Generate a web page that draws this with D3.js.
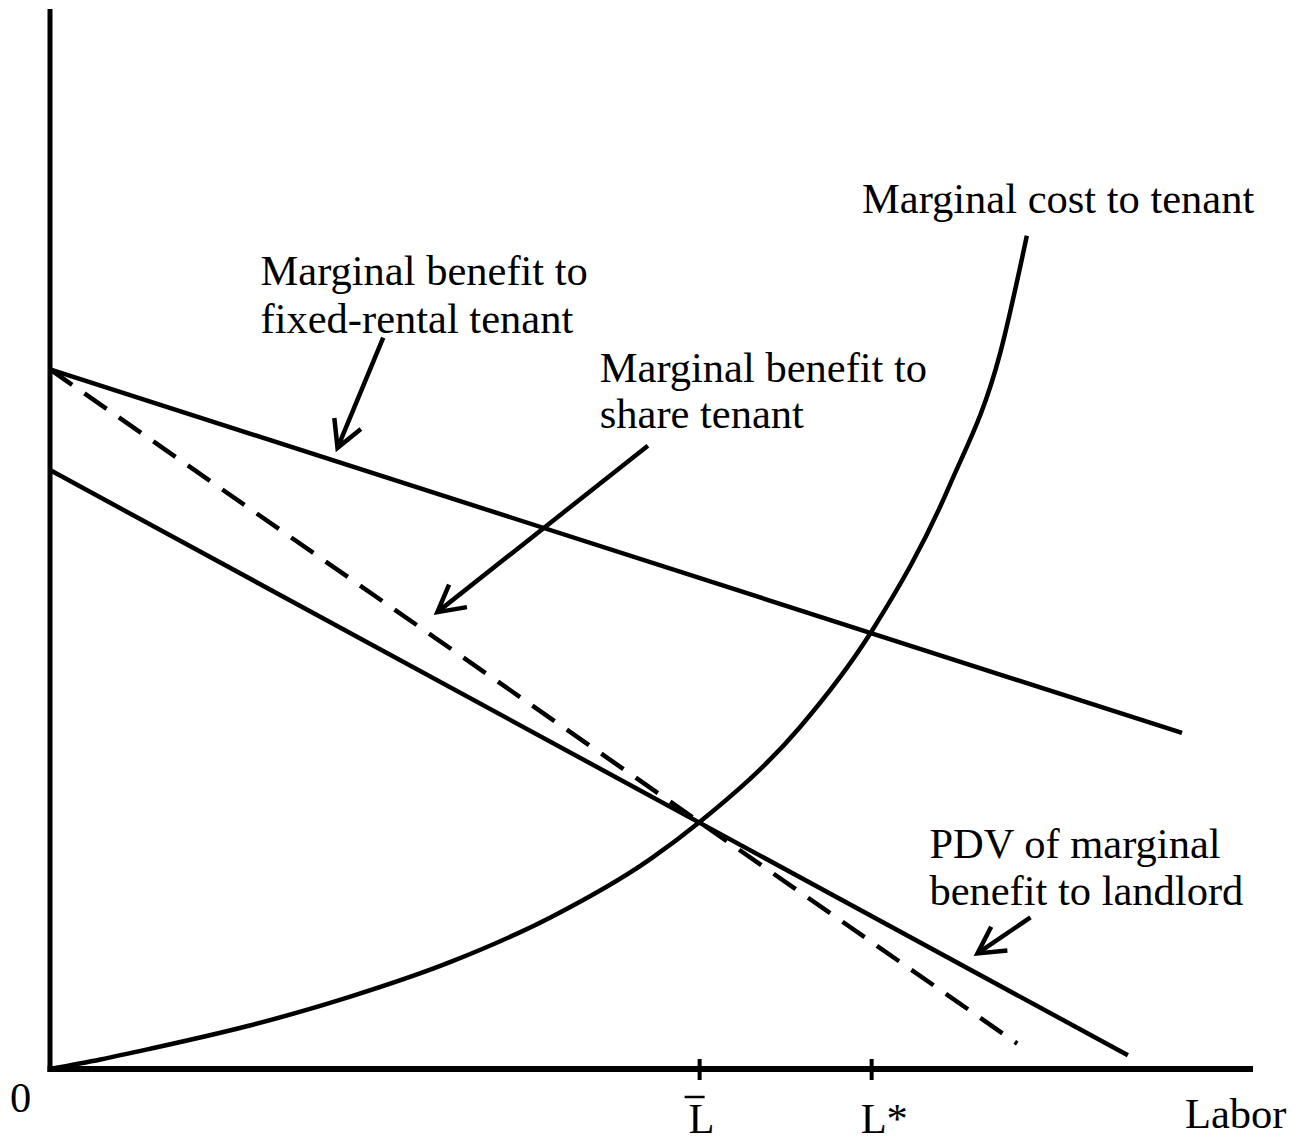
<!DOCTYPE html>
<html>
<head>
<meta charset="utf-8">
<script src="https://cdn.jsdelivr.net/npm/d3@7"></script>
<style>
  body { margin: 0; background: #fff; }
  svg text { font-family: "Liberation Serif", "Times New Roman", serif; font-size: 42.5px; fill: #000; }
</style>
</head>
<body>
<svg id="chart" width="1302" height="1142"></svg>
<script>
// diagrama de tenencia: beneficio marginal vs costo marginal del trabajo
// unidades abstractas: trabajo 0..100, valor 0..100

var mbFixed = [[0, 66.0], [94.1, 31.7]];
var mbShare = [[0, 66.0], [80.4, 2.4]];
var pdvLandlord = [[0, 56.5], [89.6, 1.3]];
var mcTenant = [
  [0, 0], [4.2, 0.9], [8.3, 1.9], [16.6, 4.1], [24.9, 6.8], [33.3, 10.1], [41.6, 14.3],
  [49.9, 19.8], [54.0, 23.3], [62.3, 32.2], [68.3, 41.3], [74.8, 55.1], [79.0, 67.6], [81.2, 78.6]
];
var tickVals = [54.0, 68.3];
var tickNames = ["L", "L*"];

// flechas de anotacion: [desde, hasta]
var arrows = [
  [[27.7, 69.0], [23.9, 58.6]],
  [[49.7, 58.8], [32.2, 43.1]],
  [[81.5, 14.3], [77.1, 10.9]]
];

var labels = [
  { t: "Marginal cost to tenant", x: 67.5, y: 80.8 },
  { t: "Marginal benefit to", x: 17.5, y: 74.0 },
  { t: "fixed-rental tenant", x: 17.5, y: 69.4 },
  { t: "Marginal benefit to", x: 45.7, y: 64.8 },
  { t: "share tenant", x: 45.7, y: 60.5 },
  { t: "PDV of marginal", x: 73.1, y: 19.9 },
  { t: "benefit to landlord", x: 73.1, y: 15.5 }
];

var svg = d3.select("#chart");
var x = d3.scaleLinear().domain([0, 100]).range([50, 1253]);
var y = d3.scaleLinear().domain([0, 100]).range([1069, 9]);

var line = d3.line().x(function (d) { return x(d[0]); }).y(function (d) { return y(d[1]); });

// ejes
svg.append("line").attr("x1", x(0)).attr("x2", x(0)).attr("y1", y(100)).attr("y2", y(0) + 3)
  .attr("stroke", "#000").attr("stroke-width", 5);
svg.append("line").attr("x1", x(0) - 2.5).attr("x2", x(100)).attr("y1", y(0)).attr("y2", y(0))
  .attr("stroke", "#000").attr("stroke-width", 6);

// ticks
svg.selectAll("line.tick").data(tickVals).enter().append("line")
  .attr("class", "tick")
  .attr("x1", function (d) { return x(d); }).attr("x2", function (d) { return x(d); })
  .attr("y1", y(0) - 10).attr("y2", y(0) + 11)
  .attr("stroke", "#000").attr("stroke-width", 4);

svg.selectAll("text.tick").data(tickVals).enter().append("text")
  .attr("class", "tick")
  .attr("x", function (d) { return x(d) - 11; })
  .attr("y", 1133)
  .text(function (d, i) { return tickNames[i]; });
// barra sobre L
svg.append("line").attr("x1", x(tickVals[0]) - 15).attr("x2", x(tickVals[0]) + 5)
  .attr("y1", 1097).attr("y2", 1097).attr("stroke", "#000").attr("stroke-width", 2.5);

svg.append("text").attr("x", 10).attr("y", 1112).text("0");
svg.append("text").attr("x", 1185).attr("y", 1128).text("Labor");

// curvas
svg.append("path").attr("d", line(mbFixed)).attr("fill", "none").attr("stroke", "#000").attr("stroke-width", 4.5);
svg.append("path").attr("d", line(pdvLandlord)).attr("fill", "none").attr("stroke", "#000").attr("stroke-width", 4.5);
svg.append("path").attr("d", line(mbShare)).attr("fill", "none").attr("stroke", "#000").attr("stroke-width", 4.5)
  .attr("stroke-dasharray", "27,15");
svg.append("path").attr("d", line.curve(d3.curveMonotoneX)(mcTenant)).attr("fill", "none")
  .attr("stroke", "#000").attr("stroke-width", 4.5);

// flechas
arrows.forEach(function (a) {
  var x1 = x(a[0][0]), y1 = y(a[0][1]), x2 = x(a[1][0]), y2 = y(a[1][1]);
  var ang = Math.atan2(y2 - y1, x2 - x1);
  var L = 30, sp = 0.5;
  svg.append("line").attr("x1", x1).attr("y1", y1).attr("x2", x2).attr("y2", y2)
    .attr("stroke", "#000").attr("stroke-width", 4.5);
  var p = "M" + (x2 - L * Math.cos(ang - sp)) + "," + (y2 - L * Math.sin(ang - sp)) +
    "L" + x2 + "," + y2 +
    "L" + (x2 - L * Math.cos(ang + sp)) + "," + (y2 - L * Math.sin(ang + sp));
  svg.append("path").attr("d", p).attr("fill", "none").attr("stroke", "#000").attr("stroke-width", 4.5);
});

svg.selectAll("text.lab").data(labels).enter().append("text")
  .attr("class", "lab")
  .attr("x", function (d) { return x(d.x); })
  .attr("y", function (d) { return y(d.y); })
  .text(function (d) { return d.t; });
</script>
</body>
</html>
